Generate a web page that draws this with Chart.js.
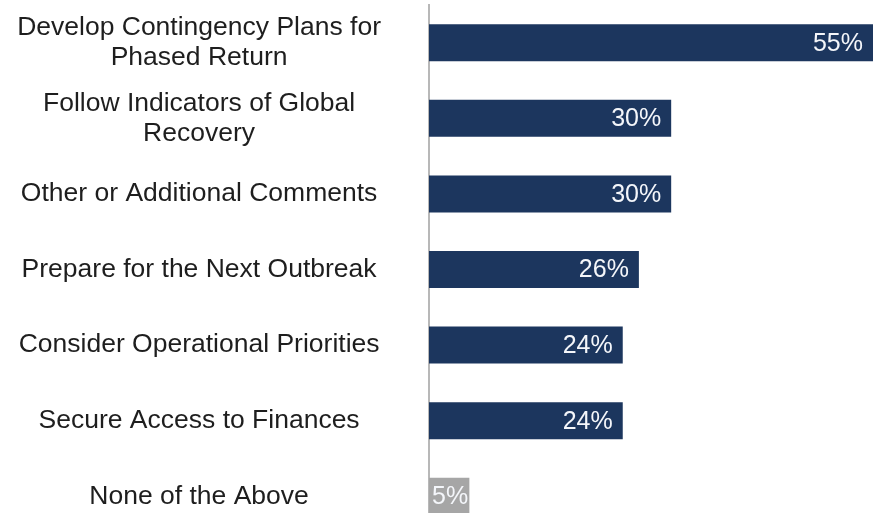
<!DOCTYPE html>
<html>
<head>
<meta charset="utf-8">
<script src="https://cdn.jsdelivr.net/npm/chart.js@4/dist/chart.umd.min.js"></script>
<style>
  html, body { margin: 0; padding: 0; background: #ffffff; overflow: hidden; }
  #wrap { width: 876px; height: 540px; }
</style>
</head>
<body>
<div id="wrap"><canvas id="chart" width="876" height="540"></canvas></div>
<script>
// Survey responses: share of respondents per planning priority
const categories = [
  ['Develop Contingency Plans for', 'Phased Return'],
  ['Follow Indicators of Global', 'Recovery'],
  'Other or Additional Comments',
  'Prepare for the Next Outbreak',
  'Consider Operational Priorities',
  'Secure Access to Finances',
  'None of the Above'
];
const shares = [55, 30, 30, 26, 24, 24, 5];
const barColors = ['#1c365e', '#1c365e', '#1c365e', '#1c365e', '#1c365e', '#1c365e', '#a6a6a6'];

// Writes the percentage inside the end of each bar
const valueLabels = {
  id: 'valueLabels',
  afterDatasetsDraw(chart) {
    const ctx = chart.ctx;
    const meta = chart.getDatasetMeta(0);
    ctx.save();
    ctx.font = '25px "Liberation Sans", Arial, sans-serif';
    ctx.fillStyle = '#f4f6fa';
    ctx.textBaseline = 'middle';
    meta.data.forEach((bar, i) => {
      const text = shares[i] + '%';
      const w = ctx.measureText(text).width;
      const barW = bar.x - bar.base;
      if (barW < w + 20) {
        ctx.textAlign = 'center';
        ctx.fillText(text, (bar.x + bar.base) / 2 + 1, bar.y + 1);
      } else {
        ctx.textAlign = 'right';
        ctx.fillText(text, bar.x - 10, bar.y + 1);
      }
    });
    ctx.restore();
  }
};

new Chart(document.getElementById('chart'), {
  type: 'bar',
  data: {
    labels: categories,
    datasets: [{
      data: shares,
      backgroundColor: barColors,
      borderWidth: 0,
      barPercentage: 0.49,
      categoryPercentage: 1
    }]
  },
  options: {
    indexAxis: 'y',
    responsive: false,
    animation: false,
    layout: { padding: { top: 5, right: 3, bottom: 6, left: 0 } },
    plugins: { legend: { display: false }, tooltip: { enabled: false } },
    scales: {
      x: {
        display: false,
        min: 0,
        max: 55
      },
      y: {
        grid: { display: false, drawTicks: false },
        border: { display: true, color: '#b8b8b8', width: 2 },
        afterFit(scale) {
          scale.width = 429;
          // tick padding only spaces the labels sideways, not the plot height
          scale.paddingTop = 0;
          scale.paddingBottom = 0;
        },
        ticks: {
          crossAlign: 'center',
          padding: 48,
          color: '#1e1e1e',
          font: { family: '"Liberation Sans", Arial, sans-serif', size: 26.5, lineHeight: 1.14 }
        }
      }
    }
  },
  plugins: [valueLabels]
});
</script>
</body>
</html>
